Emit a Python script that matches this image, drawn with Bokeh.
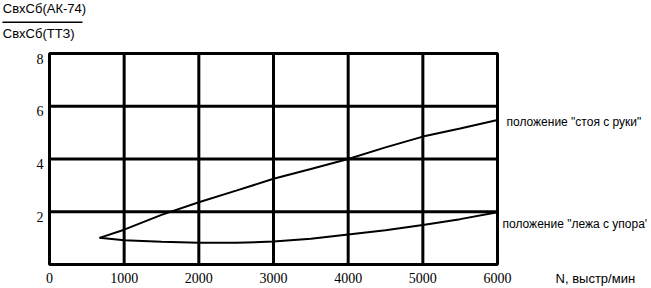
from bokeh.plotting import figure
from bokeh.models import Range1d
from bokeh.core.properties import value
from bokeh.embed import file_html
from bokeh.resources import INLINE

# Data
n_stand = [670, 1000, 1500, 2000, 2500, 3000, 3500, 4000, 4500, 5000, 5500, 6000]
r_stand = [1.01, 1.32, 1.88, 2.36, 2.80, 3.25, 3.62, 4.00, 4.44, 4.85, 5.16, 5.48]
n_lie = [670, 1000, 1500, 2000, 2500, 3000, 3500, 4000, 4500, 5000, 5500, 6000]
r_lie = [1.01, 0.92, 0.86, 0.82, 0.82, 0.87, 0.98, 1.14, 1.30, 1.50, 1.72, 1.98]
x_ticks = [0, 1000, 2000, 3000, 4000, 5000, 6000]
x_tick_labels = ["0", "1000", "2000", "3000", "4000", "5000", "6000"]
y_ticks = [2, 4, 6, 8]
y_tick_labels = ["2", "4", "6", "8"]
x_grid = [1000, 2000, 3000, 4000, 5000]
y_grid = [2, 4, 6]
x_min, x_max = 0, 6000
y_min, y_max = 0, 8
label_stand = 'положение "стоя с руки"'
label_lie = "положение \"лежа с упора'"
y_num = "СвхСб(АК-74)"
y_den = "СвхСб(ТТЗ)"
x_title = "N, выстр/мин"

SANS = value("Liberation Sans")
SERIF = value("Liberation Serif")

# The drawing area spans the whole canvas; the chart box sits inside it.
p = figure(width=651, height=288, output_backend="svg", toolbar_location=None,
           x_range=Range1d(-656, 8062), y_range=Range1d(-0.91, 10.01),
           min_border=0)
p.axis.visible = False
p.grid.visible = False
p.outline_line_color = None
p.background_fill_color = "white"
p.border_fill_color = "white"

# grid lines
p.segment(x0=x_grid, y0=[y_min] * len(x_grid), x1=x_grid, y1=[y_max] * len(x_grid),
          line_color="black", line_width=3)
p.segment(x0=[x_min] * len(y_grid), y0=y_grid, x1=[x_max] * len(y_grid), y1=y_grid,
          line_color="black", line_width=3)
# frame
p.quad(left=[x_min], right=[x_max], bottom=[y_min], top=[y_max],
       fill_color=None, line_color="black", line_width=3)

# curves
p.line(n_stand, r_stand, line_color="black", line_width=2)
p.line(n_lie, r_lie, line_color="black", line_width=2)

# tick labels
p.text(x=x_ticks, y=[y_min] * len(x_ticks), text=x_tick_labels, y_offset=8,
       text_font=SERIF, text_font_size="14px", text_color="black",
       text_align="center", text_baseline="top")
p.text(x=[x_min] * len(y_ticks), y=y_ticks, text=y_tick_labels, x_offset=-6, y_offset=5,
       text_font=SERIF, text_font_size="14px", text_color="black",
       text_align="right", text_baseline="middle")

# texts
def lab(x, y, text, baseline="middle", size="12px"):
    p.text(x=[x], y=[y], text=[text], text_font=SANS, text_font_size=size,
           text_color="black", text_baseline=baseline, text_align="left")

lab(6120, 5.4, label_stand)
lab(6067, 1.55, label_lie)
lab(6777, -0.53, x_title, size="13px")
lab(-625, 9.98, y_num, baseline="top", size="13px")
lab(-625, 9.05, y_den, baseline="top", size="13px")
p.segment(x0=[-630], y0=[9.19], x1=[442], y1=[9.19], line_color="black", line_width=1.5)

open("out.html", "w").write(file_html(p, INLINE))
